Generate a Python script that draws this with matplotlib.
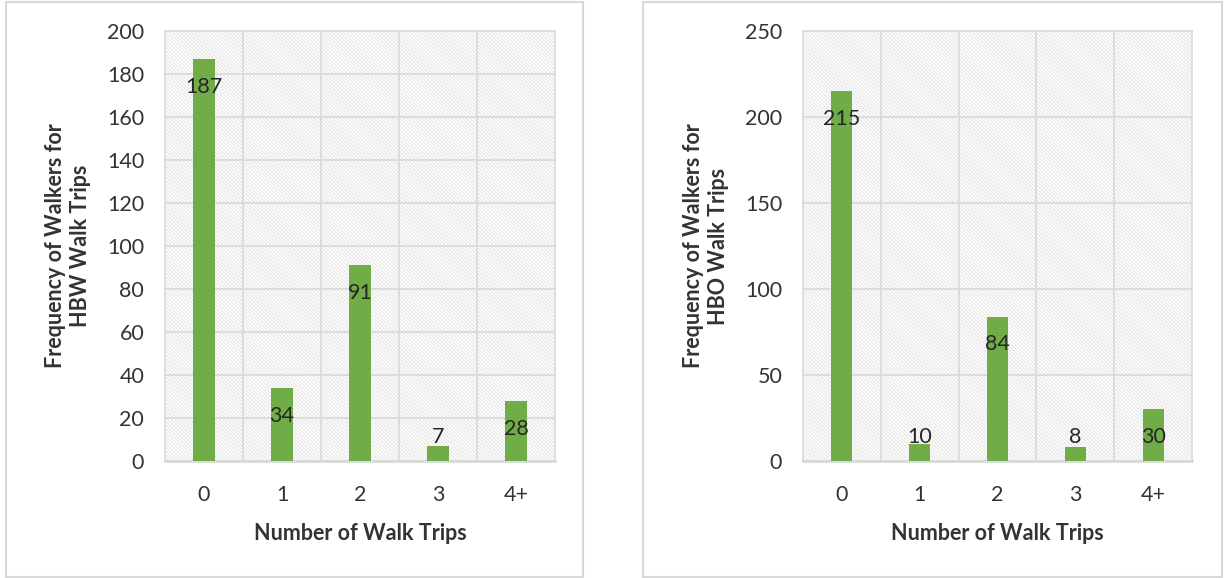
import numpy as np
import matplotlib
matplotlib.use("Agg")
import matplotlib.pyplot as plt
from matplotlib.patches import Rectangle

# data
trips = ["0", "1", "2", "3", "4+"]
hbw_counts = [187, 34, 91, 7, 28]
hbo_counts = [215, 10, 84, 8, 30]
hbw_label = "Frequency of Walkers for\nHBW Walk Trips"
hbo_label = "Frequency of Walkers for\nHBO Walk Trips"
x_label = "Number of Walk Trips"

plt.rcParams['font.family'] = ['Lato', 'DejaVu Sans']
plt.rcParams['hatch.color'] = '#e4e4e4'
plt.rcParams['hatch.linewidth'] = 0.8

GREEN = "#70ad47"
GRID = "#d9d9d9"
TXT = "#333333"
FS = 15.5

W, H = 1224, 578
fig = plt.figure(figsize=(W / 100, H / 100), dpi=100)

# panel frames (pixel boxes)
for x0, x1 in [(6, 583), (643, 1222)]:
    fig.add_artist(Rectangle((x0 / W, 1.5 / H), (x1 - x0) / W, (H - 3) / H,
                             transform=fig.transFigure, facecolor='none',
                             edgecolor=GRID, lw=1.5))


def draw_panel(left_px, width_px, counts, ymax, ystep, ylabel):
    ax = fig.add_axes([left_px / W, (H - 461) / H, width_px / W, 430 / H])
    ax.set_facecolor('white')
    # hatched plot area background
    ax.add_patch(Rectangle((0, 0), 1, 1, transform=ax.transAxes, facecolor='white',
                           edgecolor='#e4e4e4', hatch='\\' * 9, lw=0, zorder=0))
    xs = np.arange(len(trips))
    ax.bar(xs, counts, width=0.27, color=GREEN, zorder=3)
    ax.set_xlim(-0.5, len(trips) - 0.5)
    ax.set_ylim(0, ymax)
    ax.set_yticks(np.arange(0, ymax + 1, ystep))
    ax.set_xticks(xs)
    ax.set_xticklabels(trips)
    ax.set_xticks(np.arange(0.5, len(trips) - 0.5, 1), minor=True)
    ax.grid(axis='y', which='major', color=GRID, lw=1.2, zorder=1)
    ax.grid(axis='x', which='minor', color=GRID, lw=1.2, zorder=1)
    ax.tick_params(which='both', length=0, labelsize=FS, colors=TXT)
    ax.tick_params(axis='y', pad=15)
    ax.tick_params(axis='x', pad=17)
    for sp in ax.spines.values():
        sp.set_color(GRID)
        sp.set_linewidth(1.2)
    ax.spines['bottom'].set_linewidth(2)

    # value labels: ~28px below bar top, never closer than 24px to the baseline
    pt_per_unit = 430 * 0.72 / ymax
    for x, v in zip(xs, counts):
        if v * pt_per_unit - 20 > 17:
            ax.annotate(str(v), (x, v), xytext=(0, -20), textcoords='offset points',
                        ha='center', va='center', fontsize=FS, color='#262626', zorder=4)
        else:
            ax.annotate(str(v), (x, 0), xytext=(0, 17), textcoords='offset points',
                        ha='center', va='center', fontsize=FS, color='#262626', zorder=4)

    ax.set_xlabel(x_label, fontsize=FS, fontweight='bold', color=TXT)
    ax.xaxis.set_label_coords(0.5, -62 / 430)
    ax.set_ylabel(ylabel, fontsize=FS, fontweight='bold', color=TXT, va='center',
                  linespacing=1.25)
    ax.yaxis.set_label_coords(-97 / width_px, 0.5)
    return ax


draw_panel(165, 390, hbw_counts, 200, 20, hbw_label)
draw_panel(803, 389, hbo_counts, 250, 50, hbo_label)

fig.savefig("out.png", dpi=100, facecolor='white')
